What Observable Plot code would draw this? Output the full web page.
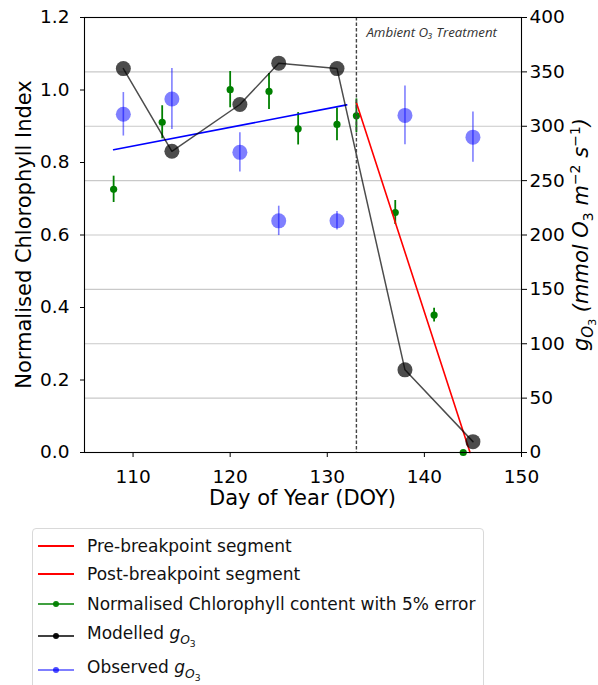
<!DOCTYPE html>
<html>
<head>
<meta charset="utf-8">
<script src="https://cdn.jsdelivr.net/npm/d3@7"></script>
<script src="https://cdn.jsdelivr.net/npm/@observablehq/plot@0.6"></script>
<style>
  body { margin: 0; background: #fff; font-family: "DejaVu Sans", sans-serif; }
  #wrap { position: relative; width: 598px; height: 685px; overflow: hidden; }
  #wrap > svg { position: absolute; left: 0; top: 0; }
  .legend { position: absolute; left: 32px; top: 528px; width: 452px; height: 180px;
            border: 1px solid #d9d9d9; border-radius: 4px; box-sizing: border-box; background: #fff; }
  .row { position: absolute; left: 5px; height: 30px; display: flex; align-items: center;
         font-size: 17px; color: #111; white-space: nowrap; }
  .row svg { margin-right: 13px; }
  .m { font-style: italic; }
  sub.s1 { font-size: 0.72em; vertical-align: -0.35em; }
  sub.s2 { font-size: 0.75em; vertical-align: -0.3em; font-style: normal; }
</style>
</head>
<body>
<div id="wrap"></div>
<script>
// Normalised chlorophyll index (green points, 5% error bars)
const chloroDoy   = [108, 113, 120, 124, 127, 131, 133, 137, 141, 144];
const chloroIndex = [0.726, 0.911, 1.001, 0.996, 0.893, 0.905, 0.929, 0.662, 0.379, 0.0];
const chloroErrorFraction = 0.05;

// Modelled stomatal ozone conductance g_O3 (mmol O3 m-2 s-1)
const modelDoy = [109, 114, 121, 125, 131, 138, 145];
const modelG   = [353, 277, 320, 358, 353, 76, 10];

// Observed g_O3 with measurement spread
const obsDoy = [109, 114, 121, 125, 131, 138, 145];
const obsG   = [311, 325, 276, 213, 213, 310, 290];
const obsErr = [20, 28, 18, 13.5, 8.5, 27, 23];

// Piecewise fit either side of the breakpoint (chlorophyll index units)
const preDoy   = [108, 132];
const preIndex = [0.835, 0.959];
const postDoy   = [133, 144.7];
const postIndex = [0.965, 0.0];

// Start of ambient ozone treatment
const treatmentDoy = 133;
const treatmentLabel = "Ambient O\u2083 Treatment";

// Axis ticks
const doyTicks   = [110, 120, 130, 140, 150];
const indexTicks = [0, 0.2, 0.4, 0.6, 0.8, 1.0, 1.2];
const gTicks     = [0, 50, 100, 150, 200, 250, 300, 350, 400];

// The right axis (0–400) shares the left axis range (0–1.2)
const G_TO_INDEX = 1.2 / 400;

const chloro = chloroDoy.map((d, i) => ({
  doy: d, v: chloroIndex[i],
  lo: chloroIndex[i] * (1 - chloroErrorFraction),
  hi: chloroIndex[i] * (1 + chloroErrorFraction)
}));
const modelled = modelDoy.map((d, i) => ({doy: d, v: modelG[i] * G_TO_INDEX}));
const observed = obsDoy.map((d, i) => ({
  doy: d, v: obsG[i] * G_TO_INDEX,
  lo: (obsG[i] - obsErr[i]) * G_TO_INDEX,
  hi: (obsG[i] + obsErr[i]) * G_TO_INDEX
}));
const preSeg  = preDoy.map((d, i) => ({doy: d, v: preIndex[i]}));
const postSeg = postDoy.map((d, i) => ({doy: d, v: postIndex[i]}));

const chart = Plot.plot({
  width: 598,
  height: 515,
  marginLeft: 84,
  marginRight: 77,
  marginTop: 17,
  marginBottom: 63,
  style: {fontFamily: "DejaVu Sans", fontSize: "18.5px", color: "#000", background: "transparent"},
  x: {domain: [105, 150]},
  y: {domain: [0, 1.2]},
  marks: [
    Plot.gridY(gTicks.map(g => g * G_TO_INDEX), {stroke: "#c9c9c9", strokeOpacity: 1, strokeWidth: 1.2}),
    Plot.axisX(doyTicks, {tickSize: 5, tickPadding: 12, label: null, fontSize: 18.5}),
    Plot.axisY(indexTicks, {anchor: "left", tickSize: 4, tickPadding: 11, label: null,
                            tickFormat: d => d.toFixed(1), fontSize: 18.5}),
    Plot.axisY(gTicks.map(g => g * G_TO_INDEX), {anchor: "right", tickSize: 5, tickPadding: 3, label: null,
                            tickFormat: d => String(Math.round(d / G_TO_INDEX)), fontSize: 18.5}),

    // observed g_O3
    Plot.ruleX(observed, {x: "doy", y1: "lo", y2: "hi", stroke: "blue", strokeOpacity: 0.5, strokeWidth: 1.6}),
    Plot.dot(observed, {x: "doy", y: "v", r: 7.5, fill: "blue", fillOpacity: 0.5, stroke: "none"}),

    // chlorophyll index
    Plot.ruleX(chloro, {x: "doy", y1: "lo", y2: "hi", stroke: "green", strokeWidth: 1.8}),
    Plot.dot(chloro, {x: "doy", y: "v", r: 3.6, fill: "green", stroke: "none"}),

    // fitted segments
    Plot.line(preSeg, {x: "doy", y: "v", stroke: "blue", strokeWidth: 1.6}),
    Plot.line(postSeg, {x: "doy", y: "v", stroke: "red", strokeWidth: 1.6}),

    // modelled g_O3
    Plot.line(modelled, {x: "doy", y: "v", stroke: "black", strokeOpacity: 0.7, strokeWidth: 1.5}),
    Plot.dot(modelled, {x: "doy", y: "v", r: 7.5, fill: "black", fillOpacity: 0.7, stroke: "none"}),

    // treatment start
    Plot.ruleX([treatmentDoy], {stroke: "#444", strokeWidth: 1.4, strokeDasharray: "3.5,2"}),
    Plot.text([treatmentLabel], {x: () => treatmentDoy, frameAnchor: "top", dx: 10, dy: 10,
                                 textAnchor: "start", fontStyle: "italic", fontSize: 13.3,
                                 fontFamily: "Open Sans", fill: "#333"}),

    Plot.frame({stroke: "#000", strokeWidth: 1.1})
  ]
});

// Axis titles
const svg = d3.select(chart);
const midY = 17 + (515 - 17 - 63) / 2;

svg.append("text")
  .attr("transform", `translate(31,${midY}) rotate(-90)`)
  .attr("text-anchor", "middle")
  .attr("font-size", 21)
  .attr("fill", "#000")
  .text("Normalised Chlorophyll Index");

svg.append("text")
  .attr("x", 84 + (598 - 84 - 77) / 2)
  .attr("y", 505)
  .attr("text-anchor", "middle")
  .attr("font-size", 21)
  .attr("fill", "#000")
  .text("Day of Year (DOY)");

const rt = svg.append("text")
  .attr("transform", `translate(588,${midY}) rotate(-90)`)
  .attr("text-anchor", "middle")
  .attr("font-size", 21)
  .attr("font-style", "italic")
  .attr("fill", "#000");
[
  ["g", 0, 21], ["O", 5, 15], ["3", 3, 11], [" (mmol O", -8, 21], ["3", 5, 14],
  [" m", -5, 21], ["\u22122", -8, 14], [" s", 8, 21], ["\u22121", -8, 14], [")", 8, 21]
].forEach(([t, dy, fs]) => {
  const sp = rt.append("tspan").attr("dy", dy).attr("font-size", fs).text(t);
  if (/[0-9]/.test(t) && t.length <= 2) sp.attr("font-style", "normal");
});

const wrap = document.getElementById("wrap");
wrap.appendChild(chart);

// Legend
const gO3 = '<span class="m">g</span><sub class="s1"><span class="m">O</span><sub class="s2">3</sub></sub>';
const legendItems = [
  {label: "Pre-breakpoint segment", color: "red", opacity: 1, dot: false},
  {label: "Post-breakpoint segment", color: "red", opacity: 1, dot: false},
  {label: "Normalised Chlorophyll content with 5% error", color: "green", opacity: 0.75, dot: true},
  {label: "Modelled " + gO3, color: "black", opacity: 0.75, dot: true},
  {label: "Observed " + gO3, color: "blue", opacity: 0.5, dot: true}
];
const legendTops = [2, 30, 60, 92, 126];
const legend = document.createElement("div");
legend.className = "legend";
legendItems.forEach((it, i) => {
  const row = document.createElement("div");
  row.className = "row";
  row.style.top = legendTops[i] + "px";
  const sw = `<svg width="36" height="10"><line x1="0" y1="5" x2="36" y2="5" stroke="${it.color}" stroke-opacity="${it.opacity}" stroke-width="1.8"/>` +
    (it.dot ? `<circle cx="18" cy="5" r="3" fill="${it.color}" fill-opacity="${Math.min(1, it.opacity + 0.2)}"/>` : "") + `</svg>`;
  row.innerHTML = sw + `<span>${it.label}</span>`;
  legend.appendChild(row);
});
wrap.appendChild(legend);
</script>
</body>
</html>
